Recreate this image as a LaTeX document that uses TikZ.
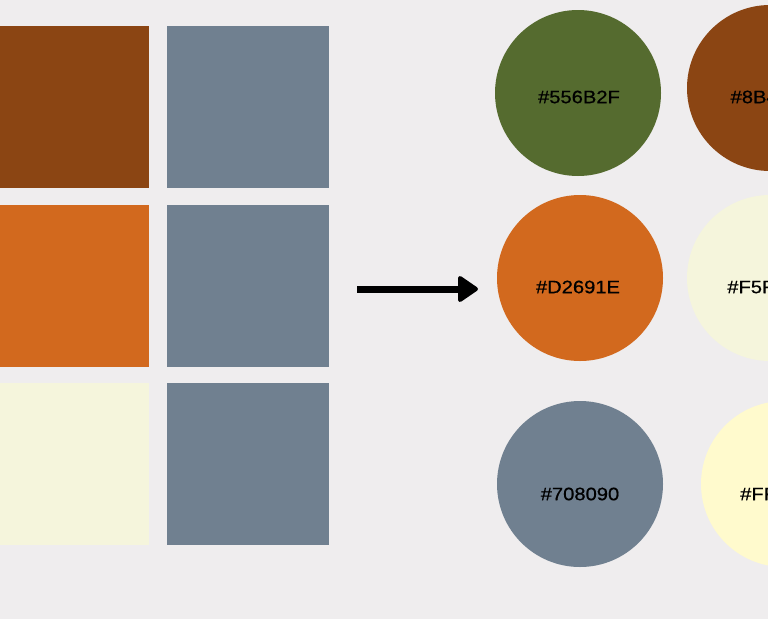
\documentclass[tikz,border=0pt]{standalone}
\usepackage{fontspec}
\setmainfont[FakeStretch=1.12, FakeBold=0.6]{Liberation Sans}
\definecolor{bg}{RGB}{239,237,238}
\definecolor{sienna}{HTML}{8B4513}
\definecolor{choc}{HTML}{D2691E}
\definecolor{beige}{HTML}{F5F5DC}
\definecolor{slate}{HTML}{708090}
\definecolor{olive}{HTML}{556B2F}
\definecolor{lemon}{HTML}{FFFACD}
\tikzset{
  swatch/.style={draw=none, fill=#1, minimum width=162pt, minimum height=162pt, inner sep=0pt, outer sep=0pt},
  dot/.style={circle, draw=none, fill=#1, minimum size=166pt, inner sep=0pt},
  hexlabel/.style={font=\fontsize{18}{20}\selectfont, text=black, inner sep=0pt},
  arrowshaft/.style={line width=7pt, draw=black},
  arrowhead/.style={fill=black, draw=black, line width=4pt, line join=round}
}
\begin{document}
\begin{tikzpicture}[x=1pt, y=-1pt]
\fill[bg] (0,0) rectangle (768,619);
\useasboundingbox (0,0) rectangle (768,619);
% swatches
\node[swatch=sienna] (r1) at (68,107) {};
\node[swatch=choc]   (r2) at (68,286) {};
\node[swatch=beige]  (r3) at (68,464) {};
\node[swatch=slate]  (s1) at (248,107) {};
\node[swatch=slate]  (s2) at (248,286) {};
\node[swatch=slate]  (s3) at (248,464) {};
% circles
\node[dot=olive]  (c1) at (578,93) {};
\node[dot=sienna] (c2) at (770,88) {};
\node[dot=choc]   (c3) at (580,278) {};
\node[dot=beige]  (c4) at (770,278) {};
\node[dot=slate]  (c5) at (580,484) {};
\node[dot=lemon]  (c6) at (784,484) {};
% labels
\node[hexlabel] (l1) at (579,97) {\#556B2F};
\node[hexlabel] (l2) at (771,97) {\#8B4513};
\node[hexlabel] (l3) at (578,287) {\#D2691E};
\node[hexlabel] (l4) at (771,287) {\#F5F5DC};
\node[hexlabel] (l5) at (580,494) {\#708090};
\node[hexlabel] (l6) at (785,494) {\#FFFACD};
% arrow
\coordinate (from) at (357,289);
\coordinate (to) at (476,289);
\coordinate (neck) at (462,289);
\draw[arrowshaft] (from) -- (neck);
\filldraw[arrowhead, shift={(to)}] (0,0) -- (-16,-11) -- (-16,11) -- cycle;
\end{tikzpicture}
\end{document}
